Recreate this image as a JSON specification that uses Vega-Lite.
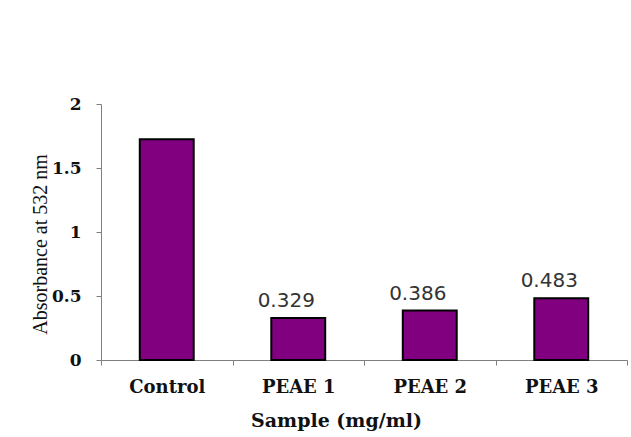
{
  "$schema": "https://vega.github.io/schema/vega-lite/v6.json",
  "width": 526,
  "height": 256,
  "autosize": {"type": "none"},
  "padding": {"left": 101, "top": 104, "right": 4, "bottom": 77},
  "background": "white",
  "config": {"view": {"stroke": null}},
  "data": {
    "values": [
      {"sample": "Control", "absorbance": 1.725, "label": ""},
      {"sample": "PEAE 1", "absorbance": 0.329, "label": "0.329"},
      {"sample": "PEAE 2", "absorbance": 0.386, "label": "0.386"},
      {"sample": "PEAE 3", "absorbance": 0.483, "label": "0.483"}
    ]
  },
  "encoding": {
    "x": {
      "field": "sample",
      "type": "nominal",
      "sort": null,
      "scale": {"paddingInner": 0, "paddingOuter": 0},
      "axis": {
        "title": "Sample (mg/ml)",
        "labelAngle": 0,
        "tickBand": "extent",
        "domainColor": "#7f7f7f",
        "tickColor": "#7f7f7f",
        "tickSize": 5,
        "labelFont": "DejaVu Serif",
        "labelFontWeight": "bold",
        "labelFontSize": 18,
        "labelColor": "#111111",
        "labelPadding": 13,
        "titleFont": "DejaVu Serif",
        "titleFontWeight": "bold",
        "titleFontSize": 19,
        "titleColor": "#111111",
        "titleX": 235,
        "titleY": 66,
        "titleAlign": "center",
        "titleBaseline": "alphabetic"
      }
    },
    "y": {
      "field": "absorbance",
      "type": "quantitative",
      "scale": {"domain": [0, 2], "nice": false},
      "axis": {
        "title": "Absorbance at 532 nm",
        "values": [0, 0.5, 1, 1.5, 2],
        "format": "~g",
        "grid": false,
        "domainColor": "#7f7f7f",
        "tickColor": "#7f7f7f",
        "tickSize": 5,
        "labelFont": "DejaVu Serif",
        "labelFontWeight": "bold",
        "labelFontSize": 17,
        "labelColor": "#111111",
        "labelPadding": 15,
        "titleFont": "Liberation Serif",
        "titleFontWeight": "normal",
        "titleFontSize": 20,
        "titleColor": "#111111",
        "titleAngle": -90,
        "titleX": -55,
        "titleY": 140,
        "titleAlign": "center",
        "titleBaseline": "alphabetic"
      }
    }
  },
  "layer": [
    {
      "mark": {"type": "bar", "width": {"band": 0.41}, "color": "#800080", "stroke": "#000000", "strokeWidth": 2}
    },
    {
      "mark": {"type": "text", "font": "DejaVu Sans", "fontSize": 20, "color": "#333333", "baseline": "alphabetic", "dy": -11, "dx": -12},
      "encoding": {"text": {"field": "label"}}
    }
  ]
}
